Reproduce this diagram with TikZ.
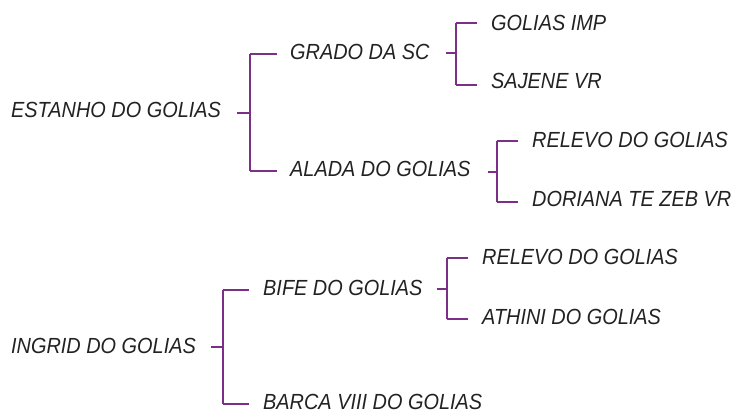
\documentclass[tikz,border=0pt]{standalone}
\usepackage{fontspec}
\usepackage{graphicx}
\setmainfont{Liberation Sans}
\definecolor{brk}{HTML}{7B2F86}
\definecolor{txt}{HTML}{222222}
\newcommand\tallt[1]{\scalebox{1}[1.1]{#1}}
\begin{document}
\begin{tikzpicture}[x=1pt,y=-1pt,
  lbl/.style={anchor=base west,inner sep=0pt,text=txt,font=\fontsize{19.9}{24}\selectfont\itshape},
  hseg/.style={draw=brk,line width=1.2pt},
  vseg/.style={draw=brk,line width=1.8pt}]
\useasboundingbox (0,0) rectangle (734,414);
% nodes
\node[lbl] (est) at (11,118) {\tallt{ESTANHO DO GOLIAS}};
\node[lbl] (gra) at (290,60) {\tallt{GRADO DA SC}};
\node[lbl] (ala) at (290,177) {\tallt{ALADA DO GOLIAS}};
\node[lbl] (gim) at (491,30.5) {\tallt{GOLIAS IMP}};
\node[lbl] (saj) at (491,89) {\tallt{SAJENE VR}};
\node[lbl] (rel1) at (532,148) {\tallt{RELEVO DO GOLIAS}};
\node[lbl] (dor) at (532,206.5) {\tallt{DORIANA TE ZEB VR}};
\node[lbl] (ing) at (11,353) {\tallt{INGRID DO GOLIAS}};
\node[lbl] (bif) at (263,296) {\tallt{BIFE DO GOLIAS}};
\node[lbl] (bar) at (263,409.5) {\tallt{BARCA VIII DO GOLIAS}};
\node[lbl] (rel2) at (482,265) {\tallt{RELEVO DO GOLIAS}};
\node[lbl] (ath) at (482,324) {\tallt{ATHINI DO GOLIAS}};
% bracket coordinates
\coordinate (s1) at (237,113); \coordinate (t1) at (250,54); \coordinate (b1) at (250,171); \coordinate (e1) at (277,0);
\coordinate (s2) at (446,53); \coordinate (t2) at (456,23); \coordinate (b2) at (456,85); \coordinate (e2) at (477,0);
\coordinate (s3) at (488,172); \coordinate (t3) at (497,141); \coordinate (b3) at (497,202); \coordinate (e3) at (518,0);
\coordinate (s4) at (211,347); \coordinate (t4) at (223,290); \coordinate (b4) at (223,404); \coordinate (e4) at (249,0);
\coordinate (s5) at (437,289); \coordinate (t5) at (447,258); \coordinate (b5) at (447,319); \coordinate (e5) at (468,0);
\foreach \i in {1,...,5}{
  \draw[hseg] (s\i) -- (s\i -| t\i);
  \draw[hseg] (t\i) -- (t\i -| e\i);
  \draw[hseg] (b\i) -- (b\i -| e\i);
  \draw[vseg] (t\i) -- (b\i);
}
\end{tikzpicture}
\end{document}
